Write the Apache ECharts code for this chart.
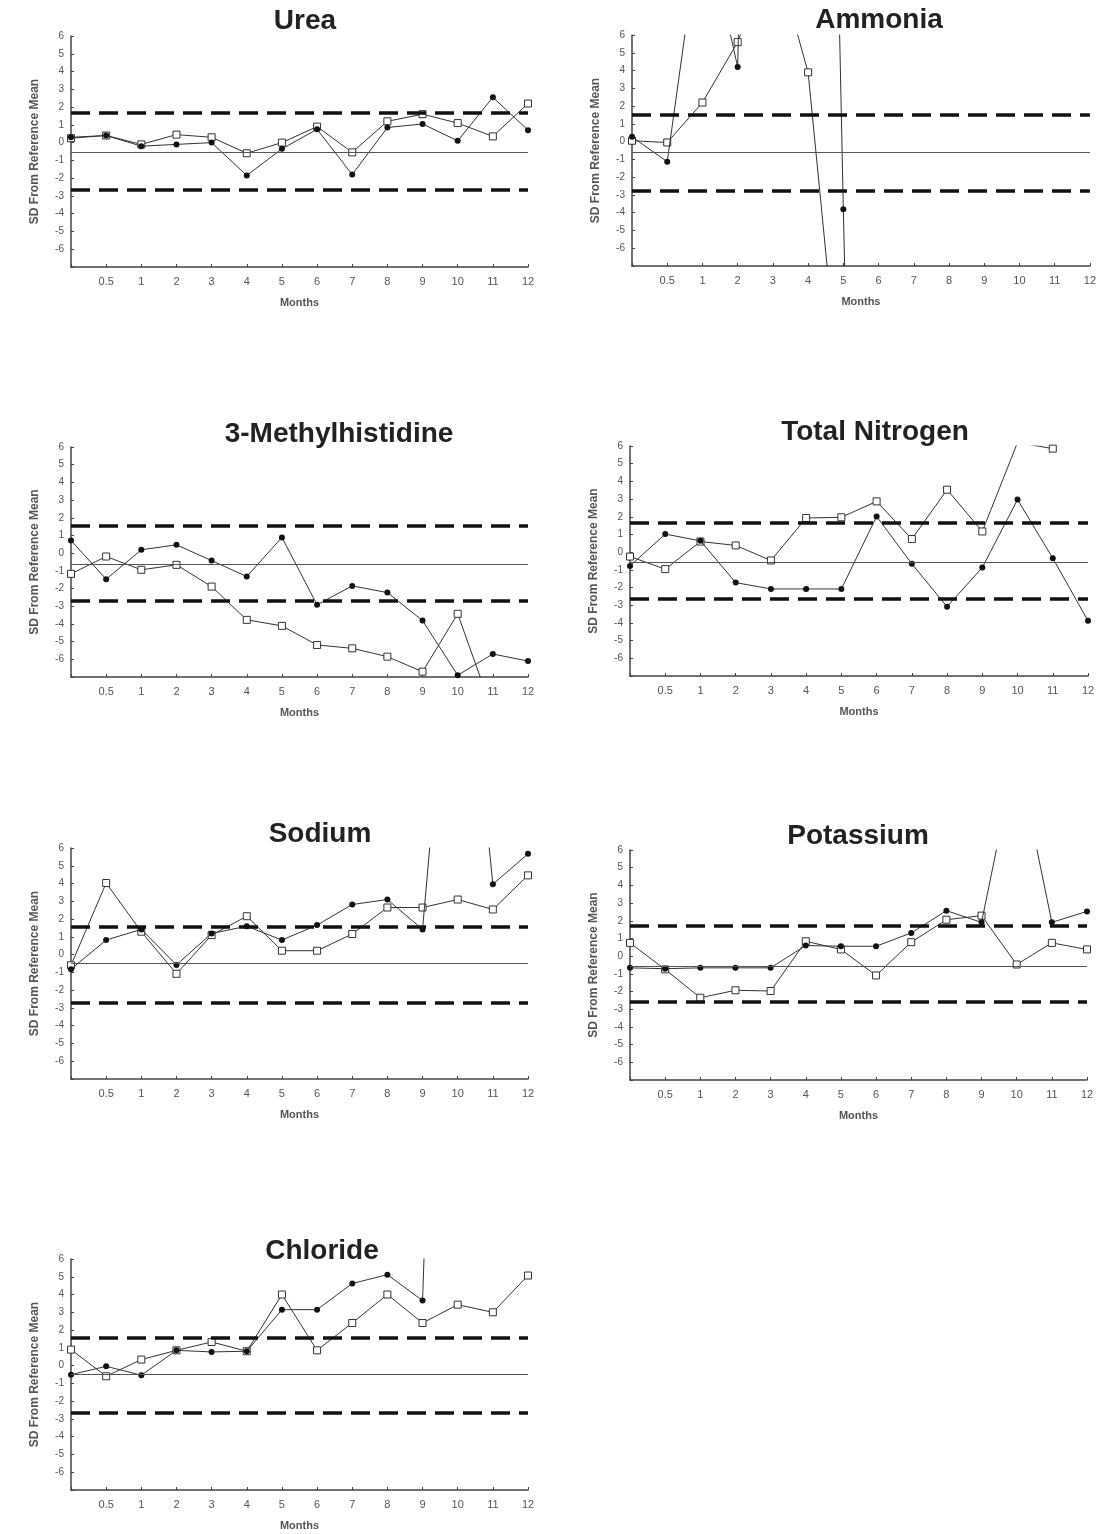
<!DOCTYPE html>
<html>
<head>
<meta charset="utf-8">
<title>SD From Reference Mean</title>
<script src="https://cdn.jsdelivr.net/npm/echarts@6.0.0/dist/echarts.min.js"></script>
<style>
html, body { margin: 0; padding: 0; background: #fff; }
#chart { width: 1099px; height: 1534px; }
</style>
</head>
<body>
<div id="chart"></div>
<script>
// x categories (first point is the baseline, unlabeled)
const months = ['', '0.5', '1', '2', '3', '4', '5', '6', '7', '8', '9', '10', '11', '12'];
const yTicks = [-7, -6, -5, -4, -3, -2, -1, 0, 1, 2, 3, 4, 5, 6];

const titles = ['Urea', 'Ammonia', '3-Methylhistidine', 'Total Nitrogen', 'Sodium', 'Potassium', 'Chloride'];

// filled circle series / open square series, SD from reference mean
// values outside -7..6 run off the plot like in the original figure
const ureaFilled = [0.3, 0.4, -0.2, -0.1, 0.0, -1.85, -0.35, 0.75, -1.8, 0.85, 1.05, 0.1, 2.55, 0.7];
const ureaOpen = [0.25, 0.4, -0.1, 0.45, 0.3, -0.6, 0.0, 0.9, -0.55, 1.2, 1.6, 1.1, 0.35, 2.2];

const ammoniaFilled = [0.27, -1.13, 13.1, 4.2, 90, 90, -3.8, -90, null, null, null, null, null, null];
const ammoniaOpen = [0.05, -0.05, 2.2, 5.6, 11, 3.9, -16.3, null, null, null, null, null, null, null];

const methylFilled = [0.72, -1.47, 0.19, 0.47, -0.42, -1.32, 0.89, -2.92, -1.85, -2.23, -3.81, -6.9, -5.7, -6.1];
const methylOpen = [-1.17, -0.19, -0.94, -0.66, -1.89, -3.77, -4.11, -5.19, -5.38, -5.85, -6.7, -3.43, -9, null];

const nitrogenFilled = [-0.78, 1.02, 0.64, -1.72, -2.08, -2.08, -2.08, 2.02, -0.66, -3.08, -0.87, 2.97, -0.34, -3.88];
const nitrogenOpen = [-0.25, -0.96, 0.6, 0.38, -0.47, 1.93, 1.97, 2.87, 0.74, 3.53, 1.17, 6.2, 5.85, null];

const sodiumFilled = [-0.82, 0.82, 1.42, -0.58, 1.19, 1.6, 0.82, 1.66, 2.82, 3.1, 1.42, 24, 3.96, 5.67];
const sodiumOpen = [-0.6, 4.03, 1.29, -1.08, 1.1, 2.16, 0.22, 0.22, 1.16, 2.65, 2.65, 3.1, 2.54, 4.46];

const potassiumFilled = [-0.66, -0.71, -0.66, -0.66, -0.66, 0.6, 0.56, 0.56, 1.31, 2.57, 1.91, 11.6, 1.91, 2.53];
const potassiumOpen = [0.75, -0.75, -2.35, -1.93, -1.97, 0.84, 0.38, -1.09, 0.79, 2.06, 2.29, -0.47, 0.75, 0.38];

const chlorideFilled = [-0.51, -0.04, -0.54, 0.86, 0.77, 0.81, 3.15, 3.15, 4.62, 5.12, 3.66, 60, null, null];
const chlorideOpen = [0.9, -0.6, 0.34, 0.86, 1.33, 0.81, 4.0, 0.86, 2.4, 4.0, 2.4, 3.43, 3.0, 5.07];

// reference lines: upper limit, mean, lower limit
const refUpper = [1.7, 1.5, 1.55, 1.65, 1.55, 1.7, 1.55];
const refMean = [-0.55, -0.6, -0.6, -0.55, -0.5, -0.55, -0.5];
const refLower = [-2.65, -2.75, -2.7, -2.65, -2.7, -2.55, -2.65];

const filledData = [ureaFilled, ammoniaFilled, methylFilled, nitrogenFilled, sodiumFilled, potassiumFilled, chlorideFilled];
const openData = [ureaOpen, ammoniaOpen, methylOpen, nitrogenOpen, sodiumOpen, potassiumOpen, chlorideOpen];

// panel placement
const layout = [
  { left: 71, top: 36, width: 457, height: 231, cx: 305, ty: 7 },
  { left: 632, top: 35, width: 458, height: 231, cx: 879, ty: 6 },
  { left: 71, top: 447, width: 457, height: 230, cx: 339, ty: 420 },
  { left: 630, top: 446, width: 458, height: 230, cx: 875, ty: 418 },
  { left: 71, top: 848, width: 457, height: 231, cx: 320, ty: 820 },
  { left: 630, top: 850, width: 457, height: 230, cx: 858, ty: 822 },
  { left: 71, top: 1259, width: 457, height: 231, cx: 322, ty: 1237 }
];

const chart = echarts.init(document.getElementById('chart'));

const font = 'Liberation Sans, Arial, sans-serif';
const grids = [], xAxes = [], yAxes = [], series = [], titleList = [];

layout.forEach((L, i) => {
  titleList.push({
    text: titles[i],
    left: L.cx,
    top: L.ty,
    textAlign: 'center',
    padding: 0,
    textStyle: { fontSize: 28, fontWeight: 'bold', color: '#222', fontFamily: font }
  });
  grids.push({ left: L.left, top: L.top, width: L.width, height: L.height, containLabel: false });
  xAxes.push({
    gridIndex: i,
    type: 'category',
    boundaryGap: false,
    data: months,
    name: 'Months',
    nameLocation: 'middle',
    nameGap: 30,
    nameTextStyle: { fontSize: 11, fontWeight: 'bold', color: '#555', fontFamily: font },
    axisLine: { onZero: false, lineStyle: { color: '#444', width: 1.5 } },
    axisTick: { inside: true, length: 3, lineStyle: { color: '#444' } },
    axisLabel: { interval: 0, fontSize: 11, color: '#555', margin: 9, fontFamily: font },
    splitLine: { show: false }
  });
  yAxes.push({
    gridIndex: i,
    type: 'value',
    min: yTicks[0],
    max: yTicks[yTicks.length - 1],
    interval: 1,
    name: 'SD From Reference Mean',
    nameLocation: 'middle',
    nameGap: 30,
    nameTextStyle: { fontSize: 12, fontWeight: 'bold', color: '#555', fontFamily: font },
    axisLine: { show: true, onZero: false, lineStyle: { color: '#444', width: 1.5 } },
    axisTick: { show: true, inside: true, length: 3, lineStyle: { color: '#444' } },
    axisLabel: {
      fontSize: 10, color: '#555', margin: 7, fontFamily: font,
      formatter: v => (v === yTicks[0] ? '' : String(v))
    },
    splitLine: { show: false }
  });
  series.push({
    type: 'line',
    xAxisIndex: i,
    yAxisIndex: i,
    data: openData[i],
    symbol: 'rect',
    symbolSize: 7,
    clip: true,
    connectNulls: false,
    lineStyle: { color: '#333', width: 1 },
    itemStyle: { color: '#fff', borderColor: '#333', borderWidth: 1 },
    z: 3,
    markLine: {
      silent: true,
      symbol: 'none',
      label: { show: false },
      animation: false,
      data: [
        { yAxis: refUpper[i], lineStyle: { color: '#111', width: 3.5, type: [19, 9] } },
        { yAxis: refMean[i], lineStyle: { color: '#555', width: 1.2, type: 'solid' } },
        { yAxis: refLower[i], lineStyle: { color: '#111', width: 3.5, type: [19, 9] } }
      ]
    }
  });
  series.push({
    type: 'line',
    xAxisIndex: i,
    yAxisIndex: i,
    data: filledData[i],
    symbol: 'circle',
    symbolSize: 6,
    clip: true,
    connectNulls: false,
    lineStyle: { color: '#333', width: 1 },
    itemStyle: { color: '#111' },
    z: 4
  });
});

chart.setOption({
  backgroundColor: '#fff',
  animation: false,
  title: titleList,
  grid: grids,
  xAxis: xAxes,
  yAxis: yAxes,
  series: series
});
</script>
</body>
</html>
